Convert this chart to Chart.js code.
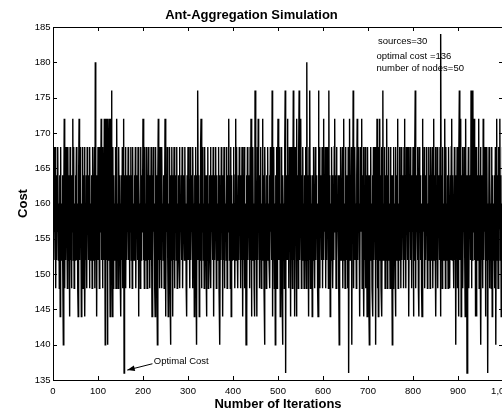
<!DOCTYPE html>
<html>
<head>
<meta charset="utf-8">
<script src="https://cdn.jsdelivr.net/npm/chart.js@4.4.1/dist/chart.umd.min.js"></script>
<style>
html, body { margin: 0; padding: 0; background: #fff; overflow: hidden; }
#wrap { width: 502px; height: 415px; overflow: hidden; }
</style>
</head>
<body>
<div id="wrap"><canvas id="myChart" width="520" height="415"></canvas></div>
<script>
// cost per iteration (iterations 1..1000)
var cost = [
  168,152,164,156,168,148,160,152,164,156,168,152,160,148,164,144,168,152,160,156,
  164,152,140,160,172,148,164,152,168,156,160,148,168,152,164,156,144,168,152,160,
  148,164,156,172,152,168,148,160,152,164,156,168,152,160,148,144,164,172,152,168,
  156,164,144,160,152,168,148,164,156,168,144,160,152,164,148,168,156,160,152,164,
  148,168,152,160,156,164,148,168,152,164,156,168,148,180,152,164,144,160,152,168,
  152,164,148,168,156,160,172,152,164,148,168,156,152,172,160,140,164,172,152,172,
  140,164,152,168,172,156,144,164,172,176,152,144,168,148,164,156,160,152,168,148,
  164,172,152,160,148,168,156,164,152,160,144,164,152,168,148,164,172,136,164,152,
  168,148,164,152,160,156,168,152,164,148,160,156,168,152,164,148,168,156,160,152,
  164,152,168,148,160,156,164,152,168,144,164,156,160,148,168,152,164,156,160,172,
  152,164,148,168,156,160,152,168,148,164,156,168,152,160,148,164,152,168,156,144,
  164,152,168,156,160,148,144,168,156,164,152,140,164,172,152,160,148,168,152,164,
  148,168,156,160,152,164,148,160,172,152,144,164,156,168,152,144,160,156,168,148,
  140,164,152,168,156,144,164,152,168,148,160,156,164,152,168,148,160,156,164,152,
  168,148,160,156,164,152,168,148,164,156,160,152,168,156,160,148,144,164,152,168,
  152,164,156,148,168,152,160,156,164,148,168,156,160,144,164,152,168,148,140,164,
  152,176,156,164,144,160,152,168,172,148,164,156,168,152,160,148,168,156,164,152,
  144,164,152,168,148,160,156,164,152,168,148,164,156,160,152,168,144,164,152,160,
  156,168,148,164,152,160,156,168,148,164,140,160,152,168,156,164,144,160,152,168,
  148,164,156,160,152,168,148,164,156,160,172,152,164,148,168,144,164,152,160,156,
  168,152,160,148,164,172,152,168,156,160,148,164,152,168,156,160,148,164,152,168,
  156,144,164,152,168,148,160,156,140,164,144,168,152,160,156,164,148,168,152,172,
  144,164,152,168,156,160,148,144,176,152,164,156,144,168,152,172,156,160,148,164,
  152,168,148,160,156,172,152,164,148,140,168,156,160,148,164,152,168,156,160,152,
  164,148,168,156,160,152,176,144,164,152,168,148,160,140,164,156,168,148,160,172,
  152,164,156,168,144,160,152,168,148,140,164,156,160,148,168,176,136,164,152,160,
  172,152,164,148,168,156,160,144,168,152,164,148,160,176,152,164,144,168,156,160,
  144,172,152,164,148,168,176,152,160,156,172,148,164,152,168,156,160,148,164,152,
  168,156,148,180,152,164,156,144,168,152,176,148,164,156,160,144,164,152,168,156,
  160,148,168,152,164,156,160,148,144,176,152,168,148,164,156,160,152,168,148,164,
  172,152,164,156,168,148,160,152,168,156,164,148,176,152,164,144,160,152,168,156,
  164,148,160,152,168,172,156,164,148,168,152,160,156,164,148,140,164,156,168,152,
  160,156,168,148,164,172,152,160,148,168,156,164,152,160,148,168,136,160,172,152,
  164,152,168,140,164,156,176,148,164,152,168,156,160,148,164,172,152,168,156,160,
  152,144,168,156,164,172,148,164,156,168,144,160,152,168,148,164,156,144,168,152,
  164,148,140,164,152,168,156,160,148,164,144,168,152,160,156,168,140,164,152,172,
  148,164,144,168,152,172,156,164,148,168,144,164,176,152,160,156,168,148,164,152,
  160,172,148,164,156,168,152,160,148,168,156,164,152,140,164,148,168,156,160,152,
  144,168,152,164,156,172,148,160,152,168,156,164,148,168,152,160,156,164,148,168,
  172,152,164,148,168,156,160,152,168,148,144,164,156,168,152,160,148,164,156,168,
  144,164,152,168,176,148,164,156,160,152,168,148,144,168,156,164,152,160,148,144,
  172,152,164,156,168,148,160,152,164,156,168,148,160,152,168,156,164,148,168,152,
  164,156,168,148,160,172,152,164,156,168,144,160,152,168,148,164,156,160,152,168,
  144,184,152,164,148,168,156,160,152,164,172,148,168,156,160,152,164,148,168,156,
  160,148,164,152,168,172,152,164,156,160,148,168,152,164,140,160,156,168,148,164,
  144,164,176,152,160,172,144,164,152,168,148,160,156,168,152,144,172,152,164,136,
  164,152,168,148,160,156,164,152,176,148,164,152,176,156,160,172,152,168,144,164,
  144,168,152,164,156,172,148,164,156,168,140,164,152,160,148,172,152,164,156,168,
  144,164,152,168,156,136,160,152,168,148,164,156,160,148,168,144,164,152,160,156,
  164,148,168,140,160,172,152,164,148,168,156,160,172,152,164,144,160,156,168,152
];
var xTicks = [0, 100, 200, 300, 400, 500, 600, 700, 800, 900, 1000];
var yTicks = [135, 140, 145, 150, 155, 160, 165, 170, 175, 180, 185];
var infoLines = ["sources=30", "optimal cost =136", "number of nodes=50"];
var minLabel = "Optimal Cost";

var F = "'Liberation Sans', Arial, Helvetica, sans-serif";
var points = cost.map(function (v, i) { return { x: i + 1, y: v }; });

// box, inward ticks and text notes
var frame = {
  id: 'frame',
  afterDatasetsDraw: function (chart) {
    var ctx = chart.ctx, a = chart.chartArea;
    var xs = chart.scales.x, ys = chart.scales.y;
    ctx.save();
    ctx.strokeStyle = '#000';
    ctx.lineWidth = 1;
    ctx.beginPath();
    ctx.rect(Math.round(a.left) + 0.5, Math.round(a.top) + 0.5,
             Math.round(a.right - a.left), Math.round(a.bottom - a.top));
    xTicks.forEach(function (v) {
      var px = Math.round(xs.getPixelForValue(v)) + 0.5;
      ctx.moveTo(px, a.bottom); ctx.lineTo(px, a.bottom - 4);
      ctx.moveTo(px, a.top); ctx.lineTo(px, a.top + 4);
    });
    yTicks.forEach(function (v) {
      var py = Math.round(ys.getPixelForValue(v)) + 0.5;
      ctx.moveTo(a.left, py); ctx.lineTo(a.left + 4, py);
      ctx.moveTo(a.right, py); ctx.lineTo(a.right - 4, py);
    });
    ctx.stroke();

    ctx.fillStyle = '#000';
    ctx.font = '9.5px ' + F;
    ctx.textAlign = 'left';
    ctx.textBaseline = 'middle';
    ctx.fillText(infoLines[0], xs.getPixelForValue(722), ys.getPixelForValue(183.0));
    ctx.fillText(infoLines[1], xs.getPixelForValue(719), ys.getPixelForValue(180.9));
    ctx.fillText(infoLines[2], xs.getPixelForValue(719), ys.getPixelForValue(179.2));
    ctx.fillText(minLabel, xs.getPixelForValue(224), ys.getPixelForValue(137.6));

    // arrow to the optimum
    var x0 = xs.getPixelForValue(221), y0 = ys.getPixelForValue(137.3);
    var x1 = xs.getPixelForValue(165), y1 = ys.getPixelForValue(136.4);
    var ang = Math.atan2(y1 - y0, x1 - x0);
    ctx.beginPath();
    ctx.moveTo(x0, y0); ctx.lineTo(x1, y1);
    ctx.stroke();
    ctx.beginPath();
    ctx.moveTo(x1, y1);
    ctx.lineTo(x1 - 8 * Math.cos(ang - 0.35), y1 - 8 * Math.sin(ang - 0.35));
    ctx.lineTo(x1 - 8 * Math.cos(ang + 0.35), y1 - 8 * Math.sin(ang + 0.35));
    ctx.closePath();
    ctx.fill();
    ctx.restore();
  }
};

var ctx = document.getElementById("myChart");
var myChart = new Chart(ctx, {
  type: 'line',
  data: {
    datasets: [{
      data: points,
      borderColor: '#000',
      borderWidth: 1.4,
      pointRadius: 0,
      fill: false,
      tension: 0
    }]
  },
  options: {
    responsive: false,
    animation: false,
    events: [],
    layout: { padding: { left: 0, right: 17, top: 0, bottom: 0 } },
    plugins: {
      legend: { display: false },
      tooltip: { enabled: false },
      title: {
        display: true,
        text: 'Ant-Aggregation Simulation',
        color: '#000',
        font: { family: F, size: 13, weight: 'bold' },
        padding: { top: 7.5, bottom: 3.9 }
      }
    },
    scales: {
      x: {
        type: 'linear',
        min: 0,
        max: 1000,
        grid: { display: false, drawTicks: false },
        border: { display: false },
        ticks: { color: '#000', font: { family: F, size: 9.5 }, padding: 6, maxRotation: 0, autoSkip: false },
        afterBuildTicks: function (s) { s.ticks = xTicks.map(function (v) { return { value: v }; }); },
        afterFit: function (s) { s.height = 35; s.paddingLeft = 0; s.paddingRight = 0; },
        title: {
          display: true,
          text: 'Number of Iterations',
          color: '#000',
          font: { family: F, size: 13, weight: 'bold' },
          padding: { top: 0, bottom: 3 }
        }
      },
      y: {
        min: 135,
        max: 185,
        grid: { display: false, drawTicks: false },
        border: { display: false },
        ticks: { color: '#000', font: { family: F, size: 9.5 }, padding: 2.5, autoSkip: false },
        afterBuildTicks: function (s) { s.ticks = yTicks.map(function (v) { return { value: v }; }); },
        afterFit: function (s) { s.width = 53; s.paddingTop = 0; s.paddingBottom = 0; },
        title: {
          display: true,
          text: 'Cost',
          color: '#000',
          font: { family: F, size: 13, weight: 'bold' },
          padding: { top: 16, bottom: 0 }
        }
      }
    }
  },
  plugins: [frame]
});
</script>
</body>
</html>
